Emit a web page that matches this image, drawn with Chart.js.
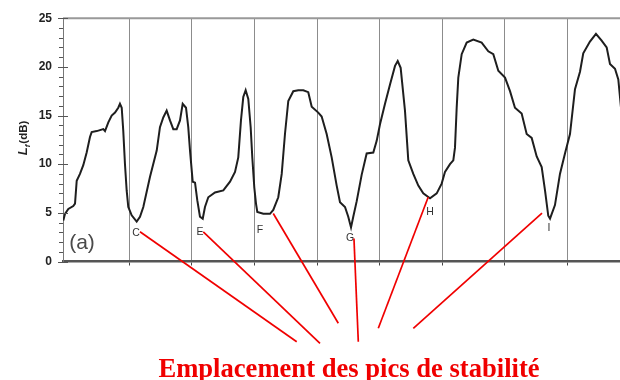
<!DOCTYPE html>
<html>
<head>
<meta charset="utf-8">
<script src="https://cdn.jsdelivr.net/npm/chart.js@4.4.1/dist/chart.umd.min.js"></script>
<style>
  html, body { margin: 0; padding: 0; background: #fff; }
  #wrap { width: 620px; height: 380px; position: relative; }
</style>
</head>
<body>
<div id="wrap"><canvas id="c" width="620" height="380"></canvas></div>
<script>
// Position along the record (one grid division = 10 units) and level L_f in dB
const position = [
  -0.54, -0.27, 0.26, 1.05, 1.33, 1.60, 2.12, 2.65, 3.19, 3.72, 3.99, 4.79, 5.85, 6.12, 6.65, 7.19,
  7.72, 8.24, 8.51, 8.79, 9.04, 9.31, 9.58, 9.84, 10.38, 11.18, 11.71, 12.24, 13.31, 14.38, 14.90,
  15.43, 15.97, 16.50, 17.03, 17.57, 18.10, 18.53, 19.06, 19.42, 19.70, 20.13, 20.50, 20.86, 21.29,
  21.73, 22.09, 22.62, 23.69, 25.02, 26.09, 26.89, 27.41, 27.84, 28.21, 28.59, 29.01, 29.39, 29.65,
  29.97, 30.24, 30.45, 31.41, 32.48, 33.00, 33.80, 34.35, 34.87, 35.40, 36.20, 37.00, 37.80, 38.59,
  39.14, 40.19, 40.73, 41.53, 42.33, 43.13, 43.66, 44.46, 44.98, 45.42, 45.78, 46.33, 47.12, 47.92,
  48.98, 49.52, 50.05, 50.85, 51.65, 52.45, 52.88, 53.35, 54.04, 54.57, 55.37, 56.17, 56.96, 58.04,
  59.11, 59.90, 60.43, 61.23, 61.76, 62.03, 62.30, 62.56, 63.10, 63.90, 64.95, 66.29, 67.35, 68.15,
  68.95, 70.02, 70.82, 71.61, 72.68, 73.48, 74.28, 75.08, 75.88, 76.41, 76.93, 77.21, 78.00, 78.80,
  79.60, 80.40, 81.20, 82.00, 82.52, 83.59, 84.55, 85.46, 86.26, 86.79, 87.59, 88.12, 88.55
];
const levelDb = [
  4.2, 4.9, 5.4, 5.7, 5.95, 8.3, 9.0, 9.9, 11.2, 12.8, 13.3, 13.4, 13.6, 13.4, 14.3, 15.0,
  15.3, 15.8, 16.2, 15.8, 13.4, 10.0, 7.3, 5.6, 4.75, 4.1, 4.6, 5.6, 8.7, 11.4, 13.8,
  14.8, 15.5, 14.5, 13.6, 13.6, 14.5, 16.2, 15.8, 13.8, 11.4, 8.2, 8.1, 6.3, 4.6,
  4.4, 5.6, 6.6, 7.1, 7.3, 8.2, 9.2, 10.7, 14.5, 16.9, 17.6, 16.7, 13.8, 10.7,
  7.6, 5.95, 5.1, 4.9, 4.9, 5.3, 6.6, 9.0, 13.1, 16.5, 17.5, 17.6, 17.6, 17.4,
  15.9, 15.3, 14.9, 13.1, 10.7, 7.8, 6.1, 5.6, 4.6, 3.5, 4.6, 6.2, 8.9, 11.1,
  11.2, 12.4, 14.1, 16.2, 18.2, 20.1, 20.6, 19.9, 15.5, 10.4, 9.0, 7.8, 7.0, 6.5,
  7.0, 8.0, 9.2, 10.0, 10.4, 11.7, 15.8, 18.9, 21.3, 22.5, 22.8, 22.5, 21.6, 21.3,
  19.6, 18.9, 17.5, 15.8, 15.2, 13.1, 12.7, 10.8, 9.7, 7.3, 4.7, 4.4, 5.8, 9.0,
  11.1, 13.1, 17.7, 19.5, 21.4, 22.6, 23.4, 22.7, 22.0, 20.3, 19.8, 18.7, 15.8
];

// Axis values
const yTickValues = [0, 5, 10, 15, 20, 25];
const gridPositions = [10, 20, 30, 40, 50, 60, 70, 80];

// Stability peak labels (letter and anchor in data units)
const peakNames = ['C', 'E', 'F', 'G', 'H', 'I'];
const peakLabelX = [11.07, 21.29, 30.88, 45.26, 58.04, 77.04];
const peakLabelY = [2.91, 3.0, 3.2, 2.4, 5.06, 3.4];
// Where each red leader line leaves the plot (data units)
const leaderFromX = [11.71, 21.82, 33.0, 45.89, 57.76, 75.93];
const leaderFromY = [3.05, 3.05, 4.93, 2.37, 6.63, 4.96];

const caption = 'Emplacement des pics de stabilité';
const panelTag = '(a)';

// Leader line ends near the caption, in canvas pixels
const leaderTo = [[296.7, 341.7], [320, 343.3], [338.3, 323.3], [358.3, 341.7], [378.3, 328.3], [413.3, 328.3]];

const points = position.map((x, i) => ({ x, y: levelDb[i] }));

const decorations = {
  id: 'decorations',
  afterDatasetsDraw(chart) {
    const { ctx, chartArea: a, scales: { x, y } } = chart;
    ctx.save();

    // top frame line
    ctx.strokeStyle = '#999';
    ctx.lineWidth = 2;
    ctx.beginPath();
    ctx.moveTo(a.left, a.top);
    ctx.lineTo(a.right, a.top);
    ctx.stroke();

    // y axis ticks: minor every 1 dB, major every 5 dB
    ctx.strokeStyle = '#555';
    ctx.lineWidth = 1;
    for (let v = 0; v <= 25; v++) {
      const py = Math.round(y.getPixelForValue(v)) + 0.5;
      ctx.beginPath();
      if (v % 5 === 0) {
        ctx.moveTo(a.left - 5, py);
        ctx.lineTo(a.left + 5, py);
      } else {
        ctx.moveTo(a.left - 4, py);
        ctx.lineTo(a.left, py);
      }
      ctx.stroke();
    }

    // panel tag
    ctx.fillStyle = '#4a4a4a';
    ctx.font = '21px "Liberation Sans", Arial, sans-serif';
    ctx.textAlign = 'center';
    ctx.textBaseline = 'middle';
    ctx.fillText(panelTag, x.getPixelForValue(2.44), y.getPixelForValue(1.9));

    // peak letters
    ctx.fillStyle = '#333';
    ctx.font = '10.5px "Liberation Sans", Arial, sans-serif';
    peakNames.forEach((n, i) => {
      ctx.fillText(n, x.getPixelForValue(peakLabelX[i]), y.getPixelForValue(peakLabelY[i]));
    });

    // y axis title: L_f (dB)
    ctx.save();
    ctx.translate(22.5, 138);
    ctx.rotate(-Math.PI / 2);
    ctx.fillStyle = '#222';
    ctx.textAlign = 'left';
    ctx.textBaseline = 'alphabetic';
    const fMain = 'italic bold 13px "Liberation Sans", Arial, sans-serif';
    const fSub = 'italic bold 8px "Liberation Sans", Arial, sans-serif';
    const fRest = 'bold 11.5px "Liberation Sans", Arial, sans-serif';
    ctx.font = fMain; const wL = ctx.measureText('L').width;
    ctx.font = fSub; const wf = ctx.measureText('f').width + 1;
    ctx.font = fRest; const wR = ctx.measureText('(dB)').width;
    let tx = -(wL + wf + wR) / 2;
    const base = 4;
    ctx.font = fMain; ctx.fillText('L', tx, base); tx += wL;
    ctx.font = fSub; ctx.fillText('f', tx, base + 3); tx += wf;
    ctx.font = fRest; ctx.fillText('(dB)', tx, base);
    ctx.restore();

    // red leader lines to the caption
    ctx.strokeStyle = '#f00000';
    ctx.lineWidth = 1.7;
    leaderTo.forEach((end, i) => {
      ctx.beginPath();
      ctx.moveTo(x.getPixelForValue(leaderFromX[i]), y.getPixelForValue(leaderFromY[i]));
      ctx.lineTo(end[0], end[1]);
      ctx.stroke();
    });

    // caption
    ctx.fillStyle = '#f00000';
    ctx.font = 'bold 26.6px "Liberation Serif", "Times New Roman", serif';
    ctx.textAlign = 'center';
    ctx.textBaseline = 'alphabetic';
    ctx.fillText(caption, 349, 377);

    ctx.restore();
  }
};

new Chart(document.getElementById('c'), {
  type: 'line',
  data: {
    datasets: [{
      data: points,
      borderColor: '#1e1e1e',
      borderWidth: 2,
      pointRadius: 0,
      tension: 0,
      fill: false
    }]
  },
  options: {
    responsive: false,
    animation: false,
    devicePixelRatio: 1,
    layout: { padding: { top: 17, right: 0, bottom: 114.5, left: 0 } },
    plugins: { legend: { display: false }, tooltip: { enabled: false }, title: { display: false } },
    scales: {
      x: {
        type: 'linear',
        min: -0.59,
        max: 88.39,
        afterBuildTicks(s) { s.ticks = gridPositions.map(v => ({ value: v })); },
        ticks: { display: false },
        grid: { color: '#8c8c8c', lineWidth: 1, tickLength: 4, tickColor: '#444' },
        border: { color: '#555', width: 2.5 }
      },
      y: {
        type: 'linear',
        min: 0,
        max: 25,
        afterBuildTicks(s) { s.ticks = yTickValues.map(v => ({ value: v })); },
        afterFit(s) { s.width = 63; },
        ticks: {
          color: '#222',
          padding: 11,
          font: { family: '"Liberation Sans", Arial, sans-serif', size: 12, weight: 'bold' }
        },
        grid: { display: false, drawTicks: false },
        border: { color: '#777', width: 1 }
      }
    }
  },
  plugins: [decorations]
});
</script>
</body>
</html>
